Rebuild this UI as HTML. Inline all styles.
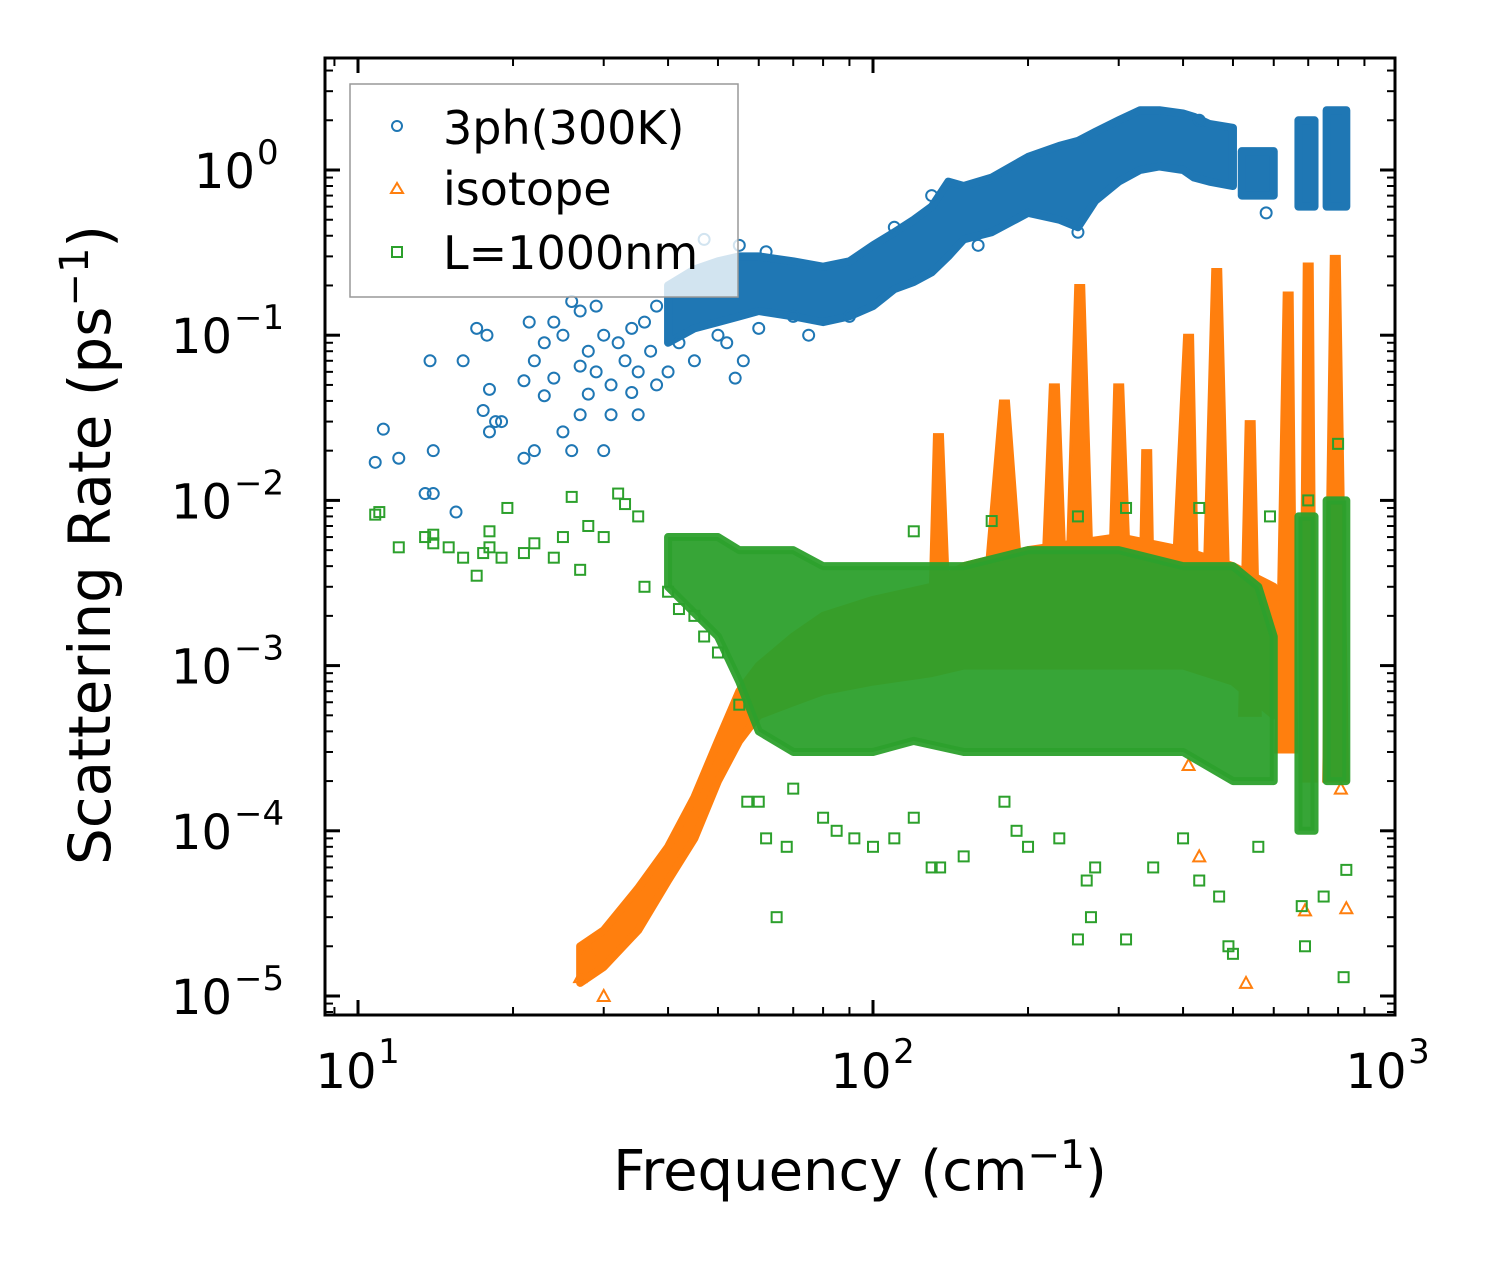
<!DOCTYPE html>
<html><head><meta charset="utf-8"><style>
html,body{margin:0;padding:0;background:#fff}
svg{display:block;font-family:"DejaVu Sans","Liberation Sans",sans-serif}
</style></head><body>
<svg id="chart" width="1495" height="1265" viewBox="0 0 1495 1265" xmlns="http://www.w3.org/2000/svg">
<g id="marks"></g>
<g id="axes"></g>
</svg>
<script>
// ---- data ----
const blueBandFreq=[40,45,50,55,60,70,80,90,100,110,120,130,140,150,170,200,230,250,270,300,330,360,400,420,450,500];
const blueBandLow=[0.09,0.11,0.12,0.13,0.14,0.13,0.12,0.13,0.15,0.19,0.21,0.24,0.3,0.38,0.42,0.55,0.5,0.45,0.65,0.85,1.0,1.05,1.0,0.9,0.85,0.8];
const blueBandHigh=[0.2,0.25,0.28,0.3,0.3,0.28,0.26,0.28,0.35,0.42,0.5,0.6,0.85,0.8,0.9,1.2,1.4,1.5,1.7,2.0,2.3,2.3,2.2,2.1,1.9,1.8];
const blueClusterFreq=[[520,600],[670,720],[760,830]];
const blueClusterLow=[0.7,0.6,0.6];
const blueClusterHigh=[1.3,2.0,2.3];
const blueFreq=[10.8,11.2,12,13.5,13.8,14,14,15.5,16,17,17.5,17.8,18,18,18.5,19,21,21,21.5,22,22,23,23,24,24,25,25,26,26,27,27,27,28,28,29,29,30,30,31,31,32,33,34,34,35,35,36,37,38,38,40,42,45,50,52,54,56,60,70,90,110,160,47,55,62,75,130,250,430,580];
const blueVal=[0.017,0.027,0.018,0.011,0.07,0.02,0.011,0.0085,0.07,0.11,0.035,0.1,0.047,0.026,0.03,0.03,0.053,0.018,0.12,0.02,0.07,0.043,0.09,0.055,0.12,0.026,0.1,0.16,0.02,0.033,0.065,0.14,0.08,0.044,0.15,0.06,0.1,0.02,0.05,0.033,0.09,0.07,0.11,0.045,0.06,0.033,0.12,0.08,0.05,0.15,0.06,0.09,0.07,0.1,0.09,0.055,0.07,0.11,0.13,0.13,0.45,0.35,0.38,0.35,0.32,0.1,0.7,0.42,2.0,0.55];

const orangeBandFreq=[27,30,35,40,45,50,55,60,70,80,100,130,150,200,300,400,500,600];
const orangeBandLow=[1.2e-5,1.5e-5,2.5e-5,5e-5,9e-5,2e-4,3.5e-4,5e-4,6e-4,7e-4,8e-4,9e-4,1e-3,1e-3,1e-3,1e-3,8e-4,5e-4];
const orangeBandHigh=[2e-5,2.5e-5,4.5e-5,8e-5,1.6e-4,3.5e-4,7e-4,1e-3,1.5e-3,2e-3,2.5e-3,3e-3,4e-3,5e-3,6e-3,5e-3,4e-3,3e-3];
const spikeStart=[128,160,210,235,285,328,375,435,515,605,675,750];
const spikePeak=[134,180,225,252,300,340,410,465,540,640,700,790];
const spikeEnd=[142,200,240,270,320,352,430,495,565,665,725,835];
const spikeTop=[0.025,0.04,0.05,0.2,0.05,0.02,0.1,0.25,0.03,0.18,0.27,0.3];
const spikeBase=[0.001,0.001,0.001,0.001,0.001,0.001,0.001,0.001,0.0005,0.0003,0.0002,0.0002];
const orangeFreq=[30,530,430,690,830,810,600,410,27,28];
const orangeVal=[0.00001,0.000012,0.00007,0.000033,0.000034,0.00018,0.0007,0.00025,1.3e-5,1.9e-5];

const greenBandFreq=[40,50,55,60,70,80,100,120,150,200,250,300,400,500,560,600];
const greenBandLow=[0.003,0.0015,0.0008,0.0004,0.0003,0.0003,0.0003,0.00035,0.0003,0.0003,0.0003,0.0003,0.0003,0.0002,0.0002,0.0002];
const greenBandHigh=[0.006,0.006,0.005,0.005,0.005,0.004,0.004,0.004,0.004,0.005,0.005,0.005,0.004,0.004,0.003,0.0015];
const greenClusterFreq=[[670,720],[760,830]];
const greenClusterLow=[0.0001,0.0002];
const greenClusterHigh=[0.008,0.01];
const greenFreq=[10.8,11,12,13.5,14,14,15,16,17,17.5,18,18,19,19.5,21,22,24,25,26,27,28,30,32,33,35,36,40,42,45,47,50,55,57,60,62,65,68,70,80,85,92,100,110,120,130,135,150,180,190,200,230,250,260,265,270,310,350,400,430,470,490,500,560,680,690,750,820,830,120,170,250,310,430,590,700,800];
const greenVal=[0.0082,0.0085,0.0052,0.006,0.0055,0.0062,0.0052,0.0045,0.0035,0.0048,0.0065,0.0052,0.0045,0.009,0.0048,0.0055,0.0045,0.006,0.0105,0.0038,0.007,0.006,0.011,0.0095,0.008,0.003,0.0028,0.0022,0.002,0.0015,0.0012,0.00058,0.00015,0.00015,0.00009,0.00003,0.00008,0.00018,0.00012,0.0001,0.00009,0.00008,0.00009,0.00012,0.00006,0.00006,0.00007,0.00015,0.0001,0.00008,0.00009,0.000022,0.00005,0.00003,0.00006,0.000022,0.00006,0.00009,0.00005,0.00004,0.00002,0.000018,0.00008,0.000035,0.00002,0.00004,0.000013,0.000058,0.0065,0.0075,0.008,0.009,0.009,0.008,0.01,0.022];

const xTicks=[10,100,1000];
const xTickLabels=["1","2","3"];
const yTicks=[1,0.1,0.01,0.001,0.0001,0.00001];
const yTickLabels=["0","\u22121","\u22122","\u22123","\u22124","\u22125"];

// ---- axes ----
const L=325,R=1395,T=58,B=1015;
const X=f=>358+515*Math.log10(f/10);
const Y=v=>170-165.2*Math.log10(v);
const NS="http://www.w3.org/2000/svg";
const marks=document.getElementById('marks'), axes=document.getElementById('axes');
function mk(tag,attrs,parent){const e=document.createElementNS(NS,tag);for(const k in attrs)e.setAttribute(k,attrs[k]);parent.appendChild(e);return e;}
const C={b:'#1f77b4',o:'#ff7f0e',g:'#2ca02c'};

const defs=mk('defs',{},marks);const cp=mk('clipPath',{id:'clip'},defs);mk('rect',{x:L,y:T,width:R-L,height:B-T},cp);
marks.setAttribute('clip-path','url(#clip)');

function band(fr,lo,hi,col,op,name){
  let p=fr.map((f,i)=>X(f)+','+Y(hi[i])).concat(fr.slice().reverse().map((f,j)=>{const i=fr.length-1-j;return X(f)+','+Y(lo[i]);}));
  const e=mk('polygon',{points:p.join(' '),fill:col,'fill-opacity':op,stroke:col,'stroke-width':8,'stroke-linejoin':'round','stroke-opacity':op},marks);
  
  
}
function circle(f,v,name){const e=mk('circle',{cx:X(f),cy:Y(v),r:5.5,fill:'none',stroke:C.b,'stroke-width':2},marks);
  
  }
function tri(f,v,name){const x=X(f),y=Y(v);const e=mk('polygon',{points:`${x},${y-6} ${x-6},${y+5} ${x+6},${y+5}`,fill:'none',stroke:C.o,'stroke-width':2},marks);
  
  }
function sq(f,v,name){const e=mk('rect',{x:X(f)-5,y:Y(v)-5,width:10,height:10,fill:'none',stroke:C.g,'stroke-width':2},marks);
  
  }

band(blueBandFreq,blueBandLow,blueBandHigh,C.b,1,'3ph-dense-band');
blueClusterFreq.forEach((r,i)=>band(r,[blueClusterLow[i],blueClusterLow[i]],[blueClusterHigh[i],blueClusterHigh[i]],C.b,1,'3ph-cluster'));
blueFreq.forEach((f,i)=>circle(f,blueVal[i],'3ph-point'));
band(orangeBandFreq,orangeBandLow,orangeBandHigh,C.o,1,'isotope-dense-band');
spikePeak.forEach((p,i)=>{
  const pts=`${X(spikeStart[i])},${Y(spikeBase[i])} ${X(p)-4},${Y(spikeTop[i])} ${X(p)+4},${Y(spikeTop[i])} ${X(spikeEnd[i])},${Y(spikeBase[i])}`;
  const e=mk('polygon',{points:pts,fill:C.o,stroke:C.o,'stroke-width':3},marks);
  
  
});
orangeFreq.forEach((f,i)=>tri(f,orangeVal[i],'isotope-point'));
band(greenBandFreq,greenBandLow,greenBandHigh,C.g,0.95,'boundary-dense-band');
greenClusterFreq.forEach((r,i)=>band(r,[greenClusterLow[i],greenClusterLow[i]],[greenClusterHigh[i],greenClusterHigh[i]],C.g,0.95,'boundary-cluster'));
greenFreq.forEach((f,i)=>sq(f,greenVal[i],'boundary-point'));

const fr=mk('rect',{x:L,y:T,width:R-L,height:B-T,fill:'none',stroke:'#000','stroke-width':3},axes);


function line(x1,y1,x2,y2,w){mk('line',{x1,y1,x2,y2,stroke:'#000','stroke-width':w},axes);}
for(let d=1;d<=3;d++){for(let m=1;m<10;m++){const x=X(Math.pow(10,d)*m/10);
  if(x<L||x>R)continue;const big=m==1;const len=big?15:8;line(x,B,x,B-len,big?3:2);line(x,T,x,T+len,big?3:2);}}
for(let d=-6;d<=1;d++){for(let m=1;m<10;m++){const y=Y(m*Math.pow(10,d));if(y<T||y>B)continue;const big=m==1;const len=big?15:8;line(L,y,L+len,y,big?3:2);line(R,y,R-len,y,big?3:2);}}
xTicks.forEach((t,i)=>{const g=mk('text',{x:X(t)-12,y:1088,'text-anchor':'middle','font-size':48},axes);g.textContent='10';
  
  
  const s=mk('text',{x:X(t)+31,y:1063,'text-anchor':'middle','font-size':34},axes);s.textContent=xTickLabels[i];});
yTicks.forEach((t,i)=>{const g=mk('text',{x:i==0?255:232,y:Y(t)+18,'text-anchor':'end','font-size':48},axes);g.textContent='10';
  
  
  const s=mk('text',{x:i==0?257:234,y:Y(t)-6,'text-anchor':'start','font-size':34},axes);s.textContent=yTickLabels[i];});
</script>
<svg style="position:absolute;left:0;top:0" width="1495" height="1265" xmlns="http://www.w3.org/2000/svg">
<g>
<rect x="350" y="84" width="388" height="213" fill="#fff" fill-opacity="0.8" stroke="#999" stroke-width="1.5"/>
<circle cx="397" cy="126" r="5" fill="none" stroke="#1f77b4" stroke-width="2"/>
<polygon points="397,183 391,193 403,193" fill="none" stroke="#ff7f0e" stroke-width="2"/>
<rect x="392" y="247" width="10" height="10" fill="none" stroke="#2ca02c" stroke-width="2"/>
<text x="443" y="144" font-size="46" font-family="DejaVu Sans,Liberation Sans,sans-serif">3ph(300K)</text>
<text x="443" y="205" font-size="46" font-family="DejaVu Sans,Liberation Sans,sans-serif">isotope</text>
<text x="443" y="269" font-size="46" font-family="DejaVu Sans,Liberation Sans,sans-serif">L=1000nm</text>
</g>
<text x="860" y="1190" text-anchor="middle" font-size="56" font-family="DejaVu Sans,Liberation Sans,sans-serif">Frequency (cm<tspan font-size="39" dy="-22">−1</tspan><tspan dy="22">)</tspan></text>
<text transform="translate(110,545) rotate(-90)" text-anchor="middle" font-size="58" font-family="DejaVu Sans,Liberation Sans,sans-serif">Scattering Rate (ps<tspan font-size="40" dy="-22">−1</tspan><tspan dy="22">)</tspan></text>
</svg>
</body></html>
